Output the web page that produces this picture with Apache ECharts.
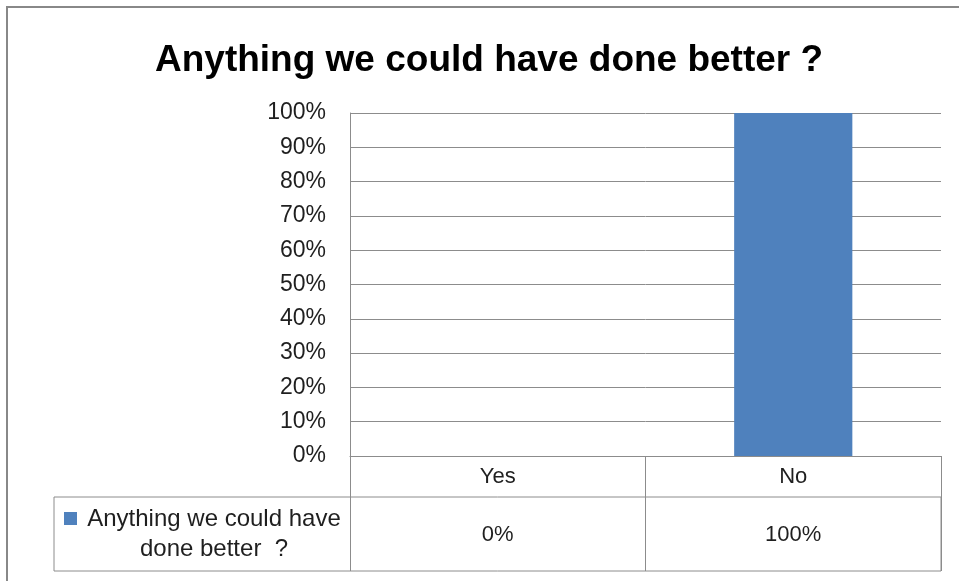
<!DOCTYPE html>
<html lang="en">
<head>
    <meta charset="UTF-8">
    <title>Anything we could have done better ?</title>
    <script src="https://cdn.jsdelivr.net/npm/echarts@6/dist/echarts.min.js"></script>
</head>
<body style="margin:0;background:#fff">
    <div id="chart" style="width:959px;height:581px;"></div>
</body>
<script type="text/javascript">
    // chart data
    var chartTitle = 'Anything we could have done better ?';
    var categories = ['Yes', 'No'];
    var seriesName = 'Anything we could have done better ?';
    var values = [0, 100];
    var yTicks = [0, 10, 20, 30, 40, 50, 60, 70, 80, 90, 100];

    var font = 'Liberation Sans, Arial, sans-serif';
    var lineColor = '#8c8c8c';
    var textColor = '#1f1f1f';

    var myChart = echarts.init(document.getElementById('chart'));

    // value row of the data table
    var valueLabels = values.map(function (v) { return v + '%'; });

    myChart.setOption({
        animation: false,
        title: {
            text: chartTitle,
            left: 150,
            top: 37,
            textStyle: { fontFamily: font, fontSize: 37, fontWeight: 'bold', color: '#000' }
        },
        grid: { left: 350, right: 18, top: 113, bottom: 125 },
        xAxis: [{
            type: 'category',
            data: categories,
            axisLine: { lineStyle: { color: lineColor } },
            // ticks between categories become the table's column lines
            axisTick: { show: true, length: 115, lineStyle: { color: lineColor } },
            axisLabel: { margin: 10, fontFamily: font, fontSize: 22, color: textColor }
        }, {
            type: 'category',
            position: 'bottom',
            data: valueLabels,
            axisLine: { show: false },
            axisTick: { show: false },
            axisLabel: { margin: 68, fontFamily: font, fontSize: 22, color: textColor }
        }],
        yAxis: {
            type: 'value',
            min: yTicks[0],
            max: yTicks[yTicks.length - 1],
            interval: yTicks[1] - yTicks[0],
            axisLine: { show: true, lineStyle: { color: lineColor } },
            axisTick: { show: false },
            splitLine: { lineStyle: { color: lineColor } },
            axisLabel: { formatter: '{value}%', margin: 24, fontFamily: font, fontSize: 23, color: textColor }
        },
        series: [{
            name: seriesName,
            type: 'bar',
            data: values,
            barWidth: '40%',
            itemStyle: { color: '#4f81bd' }
        }],
        graphic: [
            // outer chart border
            { type: 'rect', shape: { x: 7, y: 7, width: 1000, height: 1000 },
              style: { fill: 'none', stroke: '#888', lineWidth: 2 } },
            // legend row of the data table
            { type: 'rect', shape: { x: 54, y: 497, width: 887, height: 74 },
              style: { fill: 'none', stroke: lineColor, lineWidth: 1 } },
            { type: 'rect', shape: { x: 64, y: 512, width: 13, height: 13 },
              style: { fill: '#4f81bd' } },
            { type: 'text', x: 214, y: 534,
              style: {
                  text: 'Anything we could have\ndone better  ?',
                  textAlign: 'center', textVerticalAlign: 'middle',
                  font: '24px ' + font, lineHeight: 30, fill: textColor
              } }
        ]
    });
</script>
</html>
